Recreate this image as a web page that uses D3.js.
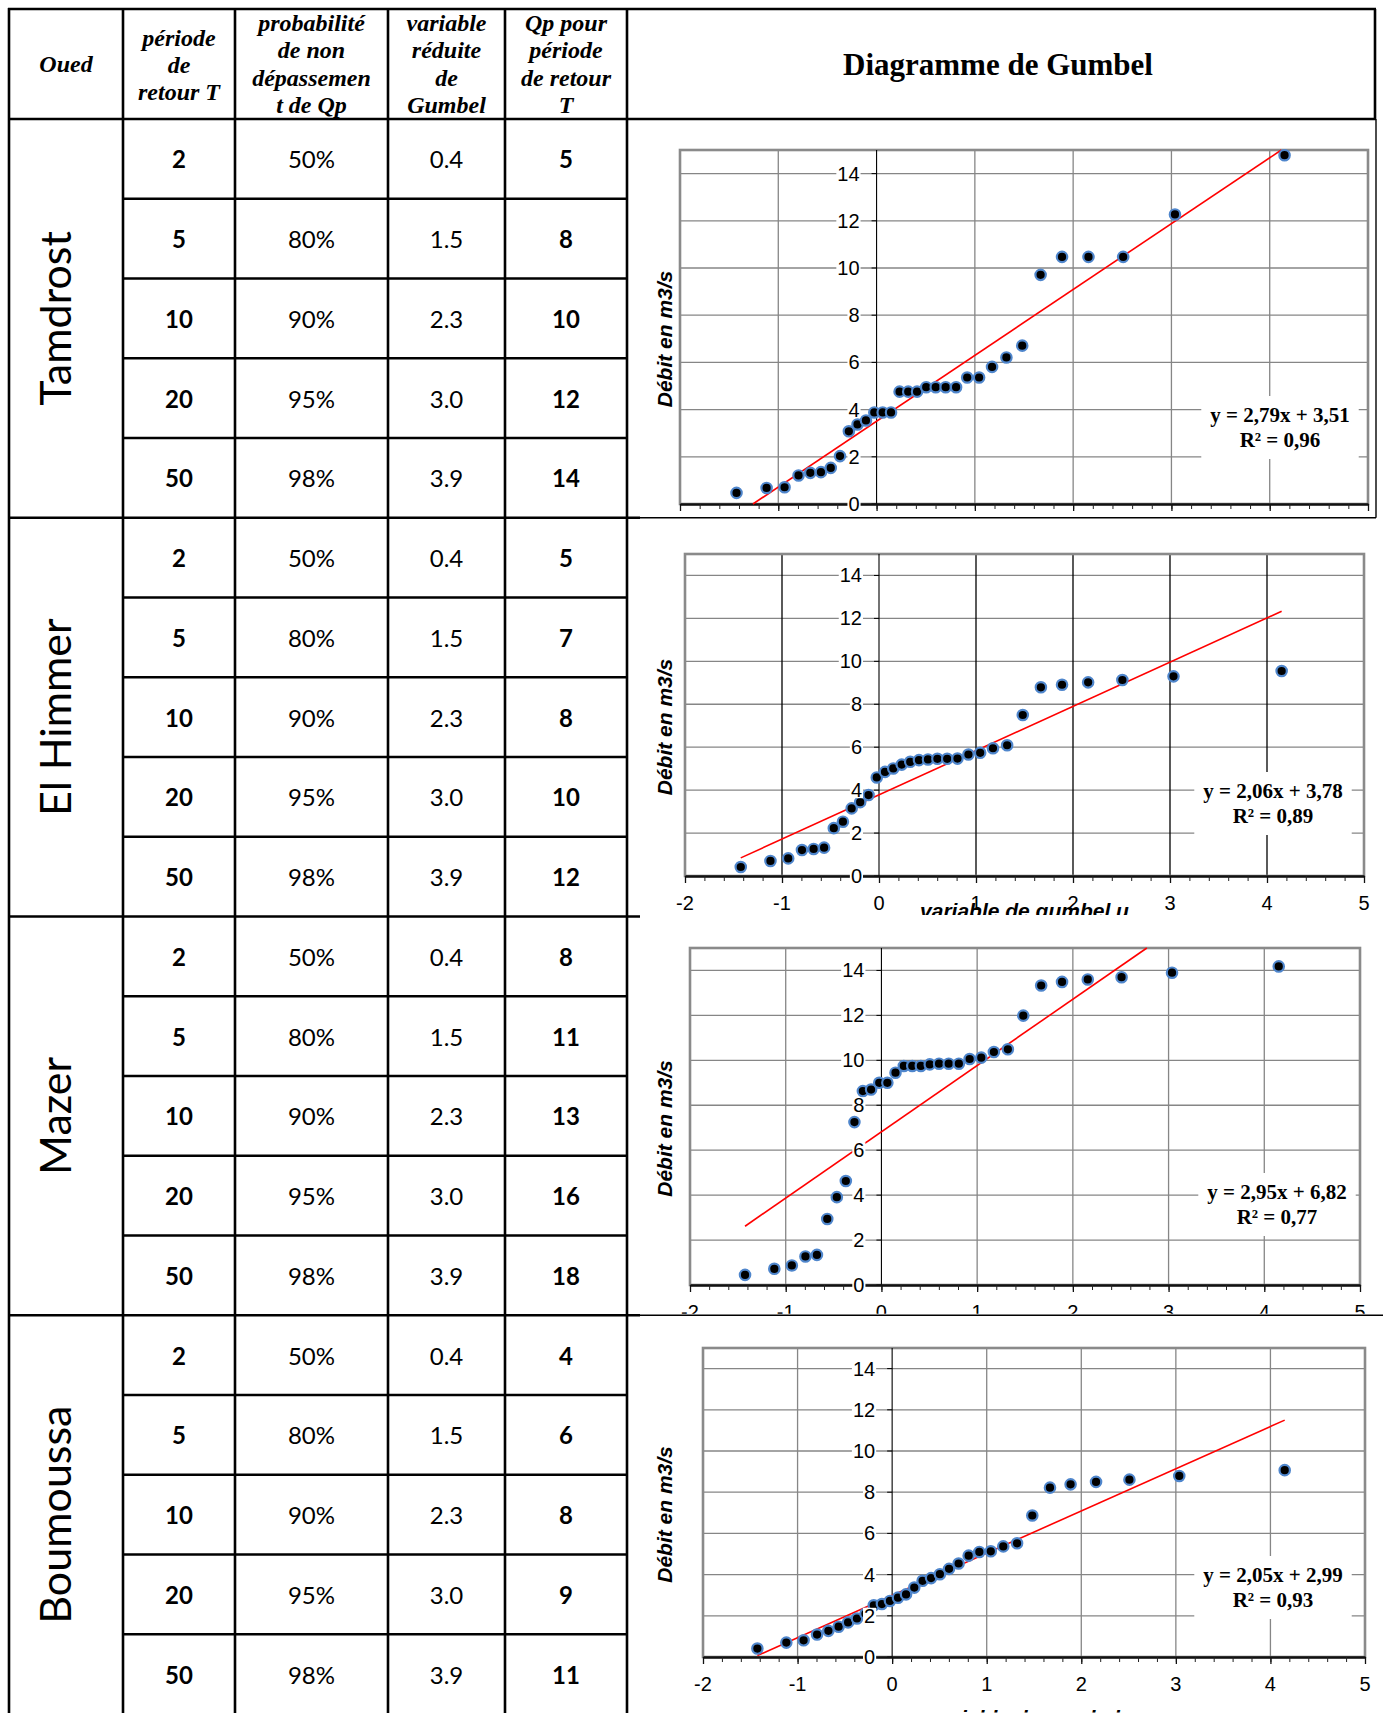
<!DOCTYPE html>
<html><head><meta charset="utf-8">
<script src="https://cdn.jsdelivr.net/npm/d3@7"></script>
<style>body{margin:0;background:#fff}svg{display:block}</style>
</head><body><svg id="c" width="1383" height="1713"></svg>
<script>
// ---------------- DATA ----------------
const oueds = ["Tamdrost", "El Himmer", "Mazer", "Boumoussa"];
const periods = [2, 5, 10, 20, 50];
const probabilities = ["50%", "80%", "90%", "95%", "98%"];
const gumbelReduced = ["0.4", "1.5", "2.3", "3.0", "3.9"];
const qpTamdrost = [5, 8, 10, 12, 14];
const qpElHimmer = [5, 7, 8, 10, 12];
const qpMazer = [8, 11, 13, 16, 18];
const qpBoumoussa = [4, 6, 8, 9, 11];

const headerOued = ["Oued"];
const headerPeriode = ["période", "de", "retour T"];
const headerProba = ["probabilité", "de non", "dépassemen", "t de Qp"];
const headerVariable = ["variable", "réduite", "de", "Gumbel"];
const headerQp = ["Qp pour", "période", "de retour", "T"];
const headerChart = "Diagramme de Gumbel";

const gumbelU = [-1.425, -1.119, -0.936, -0.794, -0.674, -0.566, -0.466, -0.372, -0.282, -0.194,
  -0.108, -0.023, 0.062, 0.147, 0.234, 0.322, 0.412, 0.505, 0.602, 0.703, 0.809, 0.922,
  1.043, 1.175, 1.321, 1.482, 1.669, 1.887, 2.156, 2.509, 3.036, 4.151];
const debitTamdrost = [0.47, 0.68, 0.71, 1.21, 1.32, 1.35, 1.53, 2.03, 3.08, 3.37, 3.54, 3.88,
  3.88, 3.88, 4.76, 4.76, 4.76, 4.95, 4.95, 4.95, 4.95, 5.36, 5.36, 5.81, 6.21, 6.71,
  9.71, 10.47, 10.47, 10.47, 12.27, 14.78];
const debitElHimmer = [0.42, 0.70, 0.82, 1.21, 1.26, 1.32, 2.23, 2.53, 3.15, 3.44, 3.77, 4.59,
  4.85, 5.01, 5.19, 5.32, 5.40, 5.43, 5.46, 5.46, 5.47, 5.66, 5.74, 5.95, 6.09, 7.50,
  8.79, 8.91, 9.02, 9.13, 9.30, 9.55];
const debitMazer = [0.45, 0.72, 0.87, 1.27, 1.34, 2.94, 3.91, 4.63, 7.25, 8.63, 8.70, 9.00,
  9.00, 9.45, 9.75, 9.75, 9.75, 9.82, 9.85, 9.85, 9.85, 10.06, 10.12, 10.37, 10.49, 11.99,
  13.33, 13.49, 13.60, 13.70, 13.90, 14.18];
const debitBoumoussa = [0.41, 0.70, 0.81, 1.09, 1.27, 1.47, 1.68, 1.87, 2.10, 2.51, 2.57, 2.72,
  2.88, 3.04, 3.37, 3.70, 3.83, 4.02, 4.28, 4.54, 4.92, 5.10, 5.13, 5.37, 5.52, 6.87,
  8.22, 8.38, 8.50, 8.61, 8.79, 9.07];

const trendSlopes = [2.79, 2.06, 2.95, 2.05];
const trendIntercepts = [3.51, 3.78, 6.82, 2.99];
const equationLabels = ["y = 2,79x + 3,51", "y = 2,06x + 3,78", "y = 2,95x + 6,82", "y = 2,05x + 2,99"];
const r2Labels = ["R² = 0,96", "R² = 0,89", "R² = 0,77", "R² = 0,93"];

const yTicks = [0, 2, 4, 6, 8, 10, 12, 14];
const xTicks = [-2, -1, 0, 1, 2, 3, 4, 5];
const yTitle = "Débit en m3/s";
const xTitle = "variable de gumbel u";

// ---------------- LAYOUT ----------------
const W = 1383, H = 1713;
const colX = [9, 123, 235, 388, 505, 627];
const rightX = 1375;
const topY = 9, headY = 119;
const SEC = 398.75, ROW = SEC / 5;
const qpLists = [qpTamdrost, qpElHimmer, qpMazer, qpBoumoussa];
const seriesList = [debitTamdrost, debitElHimmer, debitMazer, debitBoumoussa];
const charts = [
  {left: 680, right: 1368, top: 150, zero: 504, vgrid: "#868686", titleOff: 60, eqX: 1280, eqY: 415},
  {left: 685, right: 1364, top: 554, zero: 876, vgrid: "#000000", titleOff: 42, eqX: 1273, eqY: 791},
  {left: 690, right: 1360, top: 948, zero: 1285, vgrid: "#868686", titleOff: 60, eqX: 1277, eqY: 1192},
  {left: 703, right: 1365, top: 1348, zero: 1657, vgrid: "#868686", titleOff: 68, eqX: 1273, eqY: 1575}
];

const svg = d3.select("#c");
svg.append("rect").attr("width", W).attr("height", H).attr("fill", "#fff");

// ---------------- CHARTS ----------------
charts.forEach((L, i) => {
  const secTop = headY + i * SEC;
  const cid = "clip" + i;
  svg.append("clipPath").attr("id", cid).append("rect")
    .attr("x", colX[5] + 1.5).attr("y", secTop + 1.5)
    .attr("width", W - colX[5]).attr("height", SEC - 3);
  const g = svg.append("g").attr("clip-path", `url(#${cid})`);
  const x = d3.scaleLinear().domain([-2, 5]).range([L.left, L.right]);
  const y = d3.scaleLinear().domain([0, 15]).range([L.zero, L.top]);

  // horizontal gridlines
  g.selectAll(".hg").data(yTicks.filter(d => d > 0)).join("line")
    .attr("x1", L.left).attr("x2", L.right).attr("y1", d => y(d)).attr("y2", d => y(d))
    .attr("stroke", "#868686").attr("stroke-width", 1.3);
  // vertical gridlines
  g.selectAll(".vg").data(xTicks.filter(d => d !== -2 && d !== 0 && d !== 5)).join("line")
    .attr("x1", d => x(d)).attr("x2", d => x(d)).attr("y1", L.top).attr("y2", L.zero)
    .attr("stroke", L.vgrid).attr("stroke-width", 1.3);
  // plot border
  g.append("rect").attr("x", L.left).attr("y", L.top)
    .attr("width", L.right - L.left).attr("height", L.zero - L.top)
    .attr("fill", "none").attr("stroke", "#8a8a8a").attr("stroke-width", 2.6);
  // y axis line
  g.append("line").attr("x1", x(0)).attr("x2", x(0)).attr("y1", L.top).attr("y2", L.zero)
    .attr("stroke", "#000").attr("stroke-width", 1.1);
  g.selectAll(".yt").data(yTicks).join("line")
    .attr("x1", x(0) - 5).attr("x2", x(0)).attr("y1", d => y(d)).attr("y2", d => y(d))
    .attr("stroke", "#000").attr("stroke-width", 1);

  // x axis with minor (0.2) and major ticks
  const minor = d3.range(-20, 51, 2).map(d => d / 10);
  const axMinor = g.append("g").attr("transform", `translate(0,${L.zero})`)
    .call(d3.axisBottom(x).tickValues(minor).tickSize(5).tickSizeOuter(0).tickFormat(""));
  axMinor.selectAll("line").attr("stroke", "#222").attr("stroke-width", 1);
  axMinor.select(".domain").attr("stroke", "#111").attr("stroke-width", 2.4);
  const axMajor = g.append("g").attr("transform", `translate(0,${L.zero})`)
    .call(d3.axisBottom(x).tickValues(xTicks).tickSize(7).tickSizeOuter(0).tickFormat(""));
  axMajor.selectAll("line").attr("stroke", "#111").attr("stroke-width", 1.3);
  axMajor.select(".domain").remove();

  // trendline (Excel linear trend, clipped to plot area)
  const m = trendSlopes[i], b = trendIntercepts[i];
  const uMin = d3.min(gumbelU), uMax = d3.max(gumbelU);
  const u0 = Math.max(uMin, (0 - b) / m), u1 = Math.min(uMax, (15 - b) / m);
  g.append("line").attr("x1", x(u0)).attr("y1", y(m * u0 + b))
    .attr("x2", x(u1)).attr("y2", y(m * u1 + b))
    .attr("stroke", "#ff0000").attr("stroke-width", 1.6);

  // points
  const pts = gumbelU.map((u, k) => ({u, q: seriesList[i][k]}));
  g.selectAll(".pt").data(pts).join("circle")
    .attr("cx", d => x(d.u)).attr("cy", d => y(d.q)).attr("r", 5.2)
    .attr("fill", "#000").attr("stroke", "#4f86cc").attr("stroke-width", 2.2);

  // y tick labels with white backgrounds
  yTicks.forEach(t => {
    const tg = g.append("g");
    const tx = tg.append("text").attr("x", x(0) - 17).attr("y", y(t))
      .attr("text-anchor", "end").attr("dominant-baseline", "central")
      .attr("font-family", "Liberation Sans, Arial, sans-serif").attr("font-size", 20)
      .attr("fill", "#000").text(t);
    const bb = tx.node().getBBox();
    tg.insert("rect", "text").attr("x", bb.x - 1).attr("y", bb.y + 3)
      .attr("width", bb.width + 2).attr("height", bb.height - 6).attr("fill", "#fff");
  });

  // x tick labels
  g.selectAll(".xl").data(xTicks).join("text")
    .attr("x", d => x(d)).attr("y", L.zero + 34).attr("text-anchor", "middle")
    .attr("font-family", "Liberation Sans, Arial, sans-serif").attr("font-size", 20)
    .attr("fill", "#000").text(d => d);

  // axis titles
  g.append("text").attr("x", (L.left + L.right) / 2).attr("y", L.zero + L.titleOff)
    .attr("text-anchor", "middle").attr("font-family", "Liberation Sans, Arial, sans-serif")
    .attr("font-size", 21).attr("font-weight", "bold").attr("font-style", "italic")
    .text(xTitle);
  g.append("text").attr("transform", `translate(672,${(L.top + L.zero) / 2 + 12}) rotate(-90)`)
    .attr("text-anchor", "middle").attr("font-family", "Liberation Sans, Arial, sans-serif")
    .attr("font-size", 21).attr("font-weight", "bold").attr("font-style", "italic")
    .text(yTitle);

  // equation label
  const eg = g.append("g");
  const et = eg.append("text").attr("text-anchor", "middle")
    .attr("font-family", "Liberation Serif, Times New Roman, serif")
    .attr("font-size", 21).attr("font-weight", "bold").attr("fill", "#000");
  et.append("tspan").attr("x", L.eqX).attr("y", L.eqY).attr("dominant-baseline", "central").text(equationLabels[i]);
  et.append("tspan").attr("x", L.eqX).attr("y", L.eqY + 25).attr("dominant-baseline", "central").text(r2Labels[i]);
  const eb = et.node().getBBox();
  eg.insert("rect", "text").attr("x", eb.x - 9).attr("y", eb.y - 7)
    .attr("width", eb.width + 18).attr("height", eb.height + 14).attr("fill", "#fff");
});

// ---------------- TABLE ----------------
const lineW = 2.6;
const tl = svg.append("g").attr("stroke", "#000").attr("stroke-width", lineW);
colX.forEach(cx => tl.append("line").attr("x1", cx).attr("x2", cx).attr("y1", topY - 1).attr("y2", H));
tl.append("line").attr("x1", colX[0] - 1).attr("x2", rightX + 1).attr("y1", topY).attr("y2", topY);
tl.append("line").attr("x1", colX[0] - 1).attr("x2", rightX + 1).attr("y1", headY).attr("y2", headY);
tl.append("line").attr("x1", rightX).attr("x2", rightX).attr("y1", topY).attr("y2", headY);
oueds.forEach((o, s) => {
  const secTop = headY + s * SEC;
  for (let r = 1; r < 5; r++) {
    const yy = secTop + r * ROW;
    tl.append("line").attr("x1", colX[1]).attr("x2", colX[5]).attr("y1", yy).attr("y2", yy);
  }
  if (s > 0) tl.append("line").attr("x1", colX[0] - 1).attr("x2", 640).attr("y1", secTop).attr("y2", secTop);
});
// thin chart frames
const th = svg.append("g").attr("stroke", "#000").attr("stroke-width", 1.4);
th.append("line").attr("x1", rightX + 1).attr("x2", rightX + 1).attr("y1", headY).attr("y2", headY + SEC);
th.append("line").attr("x1", 640).attr("x2", rightX + 1).attr("y1", headY + SEC).attr("y2", headY + SEC);
th.append("line").attr("x1", 640).attr("x2", W).attr("y1", headY + 3 * SEC).attr("y2", headY + 3 * SEC);

// header texts
const hdrFont = "Liberation Serif, Times New Roman, serif";
function headerCell(lines, cx, cy, step) {
  const n = lines.length;
  lines.forEach((t, k) => {
    svg.append("text").attr("x", cx).attr("y", cy + (k - (n - 1) / 2) * step)
      .attr("text-anchor", "middle").attr("dominant-baseline", "central")
      .attr("font-family", hdrFont).attr("font-size", 24).attr("font-weight", "bold")
      .attr("font-style", "italic").text(t);
  });
}
const hc = (headY + topY) / 2;
headerCell(headerOued, (colX[0] + colX[1]) / 2, hc, 27.3);
headerCell(headerPeriode, (colX[1] + colX[2]) / 2, hc + 0.5, 27);
headerCell(headerProba, (colX[2] + colX[3]) / 2, hc, 27.6);
headerCell(headerVariable, (colX[3] + colX[4]) / 2, hc, 27.6);
headerCell(headerQp, (colX[4] + colX[5]) / 2, hc, 27.6);
svg.append("text").attr("x", 998).attr("y", hc).attr("text-anchor", "middle")
  .attr("dominant-baseline", "central").attr("font-family", hdrFont)
  .attr("font-size", 31).attr("font-weight", "bold").text(headerChart);

// body texts
const cellFont = "Lato, Open Sans, sans-serif";
oueds.forEach((o, s) => {
  const secTop = headY + s * SEC;
  svg.append("text").attr("transform", `translate(71,${secTop + SEC / 2}) rotate(-90)`)
    .attr("text-anchor", "middle").attr("font-family", cellFont).attr("font-size", 43)
    .attr("fill", "#000").text(o);
  periods.forEach((p, r) => {
    const cy = secTop + (r + 0.5) * ROW;
    const cells = [
      {v: p, x: (colX[1] + colX[2]) / 2, bold: true},
      {v: probabilities[r], x: (colX[2] + colX[3]) / 2, bold: false},
      {v: gumbelReduced[r], x: (colX[3] + colX[4]) / 2, bold: false},
      {v: qpLists[s][r], x: (colX[4] + colX[5]) / 2, bold: true}
    ];
    cells.forEach(c => {
      svg.append("text").attr("x", c.x).attr("y", cy).attr("text-anchor", "middle")
        .attr("dominant-baseline", "central").attr("font-family", cellFont)
        .attr("font-size", 24).attr("font-weight", c.bold ? "bold" : "normal")
        .attr("fill", "#000").text(c.v);
    });
  });
});
</script></body></html>
